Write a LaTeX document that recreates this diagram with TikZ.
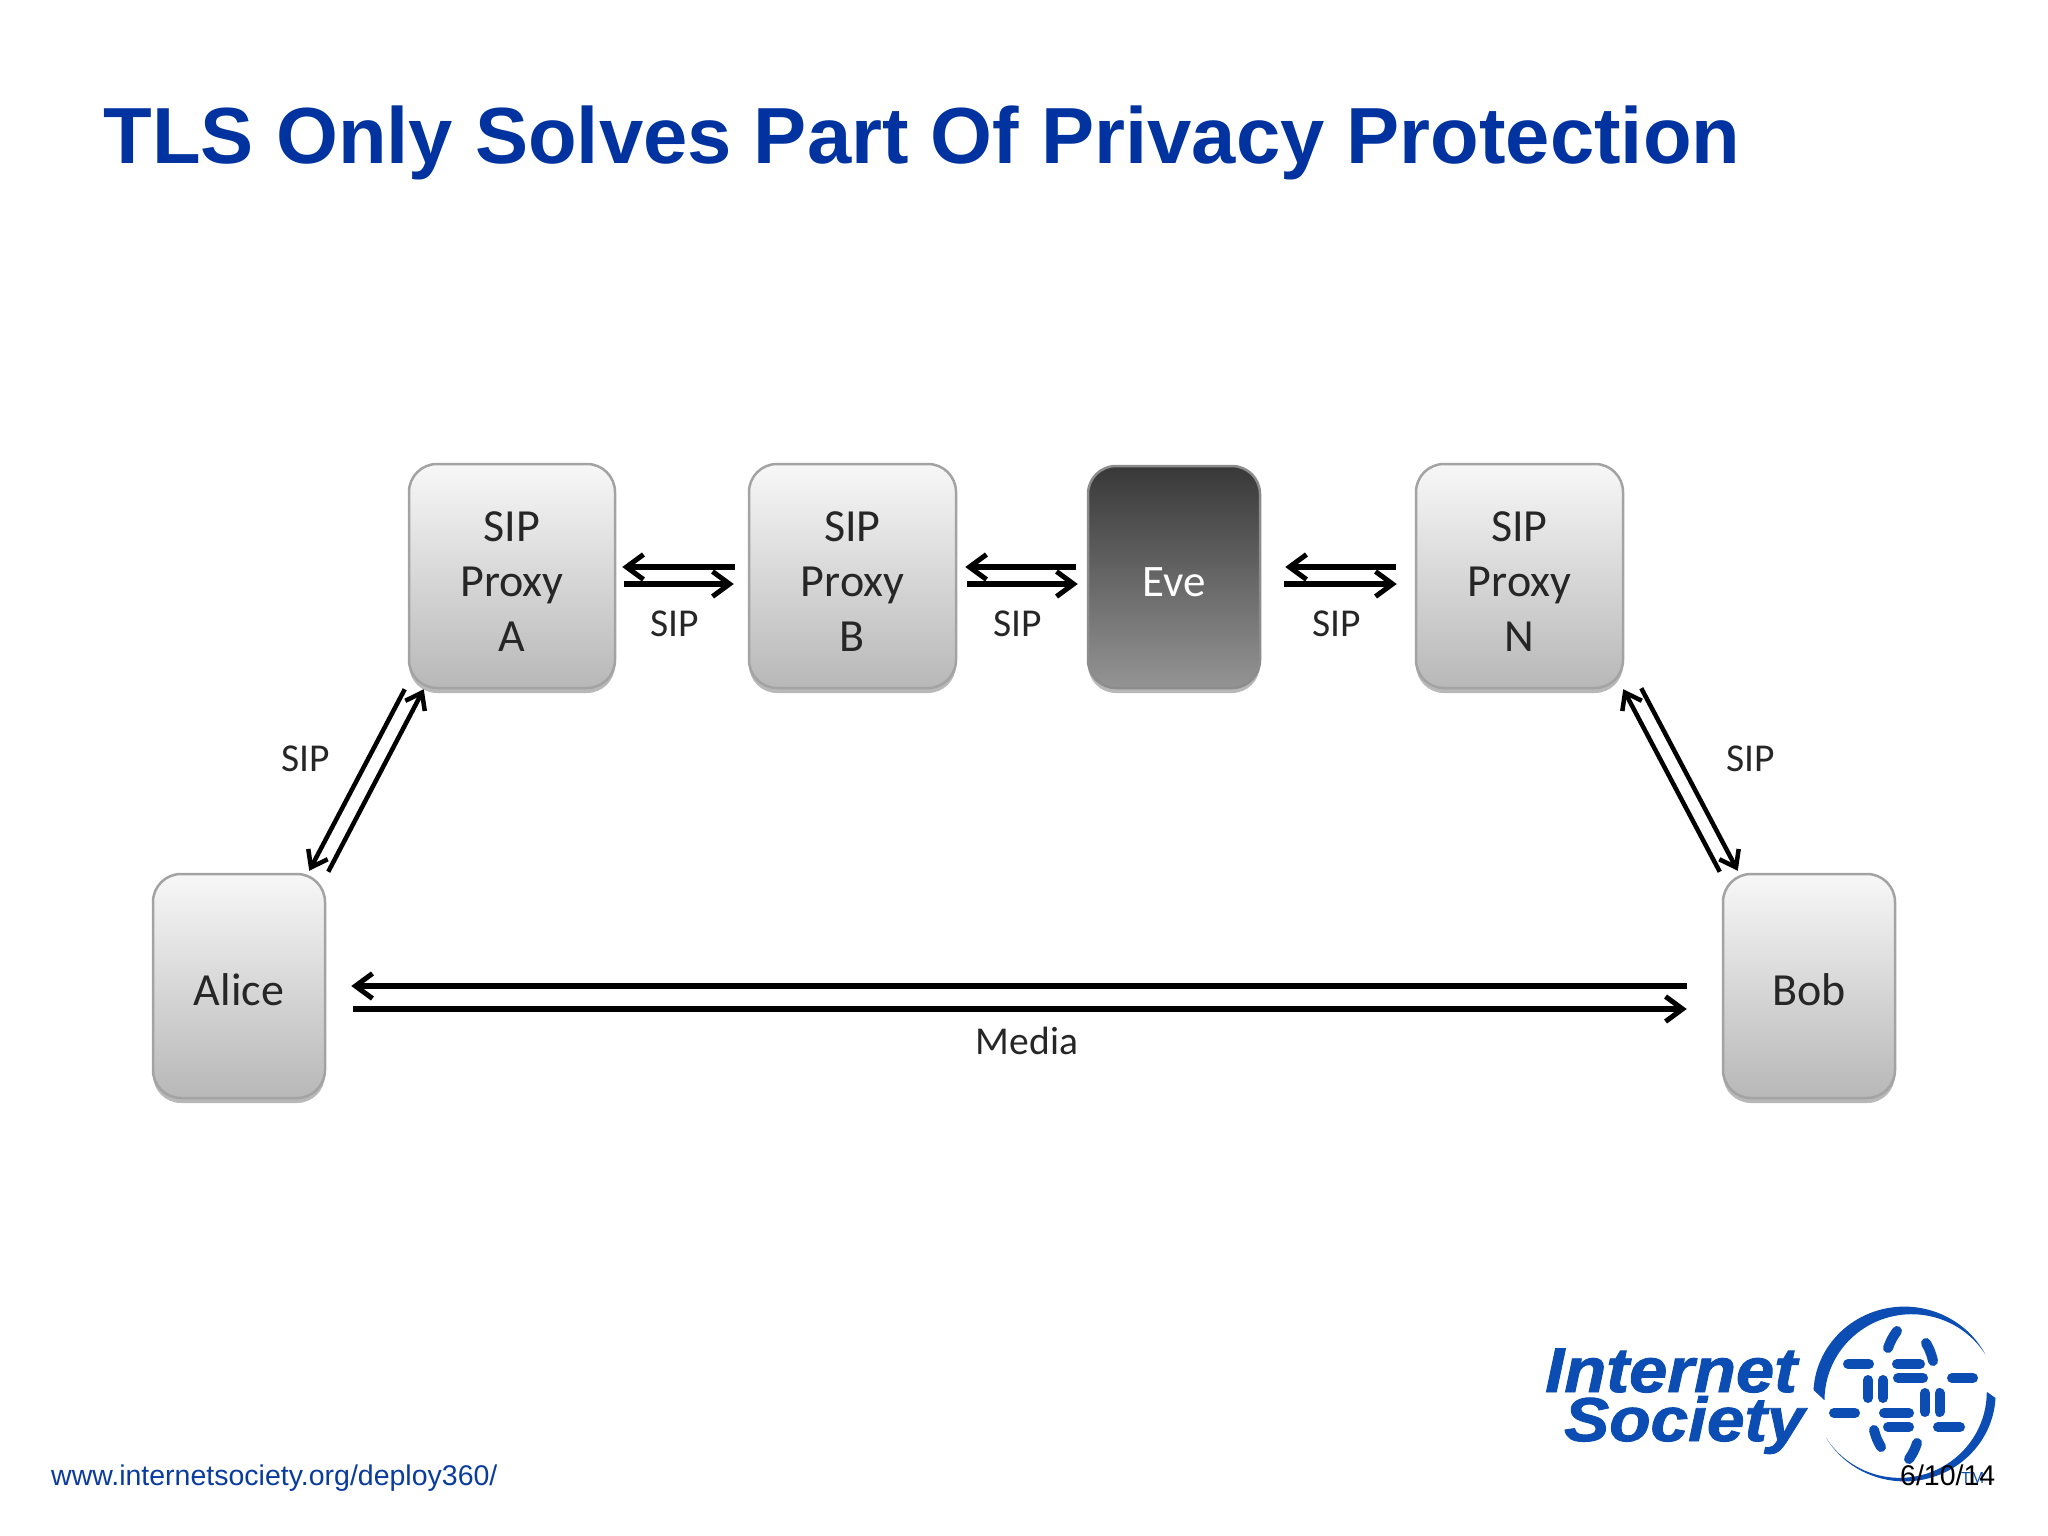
\documentclass[tikz,border=0pt]{standalone}
\usepackage{fontspec}
\usetikzlibrary{arrows.meta,shadows,calc}
\setmainfont{Carlito}
\newfontfamily\slidefont{Liberation Sans}
\newfontfamily\logofont[FakeStretch=1.09,FakeBold=1.5]{Liberation Sans}
\definecolor{titleblue}{HTML}{0033A0}
\definecolor{logoblue}{HTML}{0B4DB2}
\definecolor{urlblue}{HTML}{0A3C9E}
\tikzset{
  box/.style={rounded corners=28pt,draw=black!36,line width=2.5pt,inner sep=0pt,align=center,
    top color=black!3,bottom color=black!28,
    drop shadow={shadow xshift=0pt,shadow yshift=-5pt,opacity=.28,fill=black},
    font=\fontsize{46}{55}\selectfont,text=black!85},
  evebox/.style={box,draw=black!45,top color=black!78,bottom color=black!42,text=white,font=\fontsize{45}{55}\selectfont},
  tag/.style={inner sep=0pt,font=\fontsize{39.5}{44}\selectfont,text=black!85},
  arr/.style={line width=5.5pt,-{Straight Barb[length=17pt,width=25pt,line width=5pt]}},
  diag/.style={line width=4.5pt,-{Straight Barb[length=15pt,width=22pt,line width=4.5pt]}},
  dashmark/.style={line width=10pt,line cap=round,draw=logoblue},
  slidetext/.style={inner sep=0pt,anchor=base west},
}
\begin{document}
\begin{tikzpicture}[x=1pt,y=-1pt]
\useasboundingbox (0,0) rectangle (2048,1536);
\fill[white] (0,0) rectangle (2048,1536);

\node[slidetext,text=titleblue,font=\slidefont\bfseries\fontsize{79.6}{90}\selectfont] (title) at (103.5,164) {TLS Only Solves Part Of Privacy Protection};

\node[box,minimum width=206pt,minimum height=224pt] (pa) at (512,576) {\rule{0pt}{40pt}SIP\\Proxy\\A};
\node[box,minimum width=207pt,minimum height=224pt] (pb) at (852.5,576) {\rule{0pt}{40pt}SIP\\Proxy\\B};
\node[evebox,minimum width=172pt,minimum height=222pt] (eve) at (1174,577) {\rule{0pt}{40pt}Eve};
\node[box,minimum width=207pt,minimum height=224pt] (pn) at (1519.5,576) {\rule{0pt}{40pt}SIP\\Proxy\\N};
\node[box,minimum width=172pt,minimum height=224pt] (alice) at (239,986) {\rule{0pt}{40pt}Alice};
\node[box,minimum width=172pt,minimum height=224pt] (bob) at (1809,986) {\rule{0pt}{40pt}Bob};

\draw[arr] ([shift={(119,-9)}]pa.east) -- ([shift={(6,-9)}]pa.east);
\draw[arr] ([shift={(8,8)}]pa.east) -- ([shift={(-14,8)}]pb.west);
\draw[arr] ([shift={(119,-9)}]pb.east) -- ([shift={(8,-9)}]pb.east);
\draw[arr] ([shift={(10,8)}]pb.east) -- ([shift={(-9,7)}]eve.west);
\draw[arr] ([shift={(-19,-9)}]pn.west) -- ([shift={(24,-10)}]eve.east);
\draw[arr] ([shift={(23,7)}]eve.east) -- ([shift={(-18,8)}]pn.west);

\draw[diag] ([shift={(-3,0)}]pa.south west) -- ([shift={(-17,-2)}]alice.north east);
\draw[diag] ([shift={(2,-1)}]alice.north east) -- ([shift={(16,0)}]pa.south west);
\draw[diag] ([shift={(-2,-1)}]bob.north west) -- ([shift={(-1,0)}]pn.south east);
\draw[diag] ([shift={(17,-1)}]pn.south east) -- ([shift={(16,-2)}]bob.north west);

\draw[arr] ([shift={(-35,0)}]bob.west) -- ([shift={(25,0)}]alice.east);
\draw[arr] ([shift={(27,23)}]alice.east) -- ([shift={(-35,23)}]bob.west);

\node[tag] (sipab) at (675,623.5) {SIP};
\node[tag] (sipbe) at (1018,623.5) {SIP};
\node[tag] (sipen) at (1336.5,623.5) {SIP};
\node[tag] (sipal) at (306,759) {SIP};
\node[tag] (sipbo) at (1751,759) {SIP};
\node[tag] (media) at (1027,1041) {Media};

% logo wordmark
\node[slidetext,text=logoblue,font=\logofont\bfseries\itshape\fontsize{63}{63}\selectfont] (lone) at (1545,1392) {Internet};
\node[slidetext,text=logoblue,font=\logofont\bfseries\itshape\fontsize{62}{62}\selectfont] (ltwo) at (1564,1441) {Society};

% logo globe
\fill[logoblue] (1813.5,1390) arc[start angle=183,end angle=333,x radius=91,y radius=88]
  arc[start angle=328,end angle=180,x radius=87.1,y radius=86] -- cycle;
\fill[logoblue] (1995.5,1398) arc[start angle=3,end angle=150,x radius=91,y radius=88]
  arc[start angle=148,end angle=0,x radius=87.1,y radius=86] -- cycle;
\foreach \xa/\xb/\yy in {1848/1869/1364,1897/1920/1364,1898/1923/1378,1952/1973/1378,1834/1855/1413,1884/1909/1413,1888/1909/1427,1938/1960/1427}
  \draw[dashmark] (\xa,\yy) -- (\xb,\yy);
\foreach \xx/\ya/\yb in {1868/1380/1398,1883/1380/1398,1925/1393/1412,1939.5/1393/1412}
  \draw[dashmark] (\xx,\ya) -- (\xx,\yb);
\draw[dashmark] (1897,1331) to[bend right=8] (1888,1348);
\draw[dashmark] (1926,1343) to[bend left=8] (1933,1361);
\draw[dashmark] (1874,1430) to[bend right=8] (1881,1447);
\draw[dashmark] (1917,1443) to[bend left=8] (1909,1459);
\node[slidetext,text=logoblue,font=\slidefont\fontsize{16}{16}\selectfont] (tm) at (1961,1483) {TM};

\node[slidetext,text=urlblue,font=\slidefont\fontsize{28.5}{30}\selectfont] (url) at (51,1485) {www.internetsociety.org/deploy360/};
\node[slidetext,text=black,font=\slidefont\fontsize{28.5}{30}\selectfont] (date) at (1900,1485) {6/10/14};
\end{tikzpicture}
\end{document}
